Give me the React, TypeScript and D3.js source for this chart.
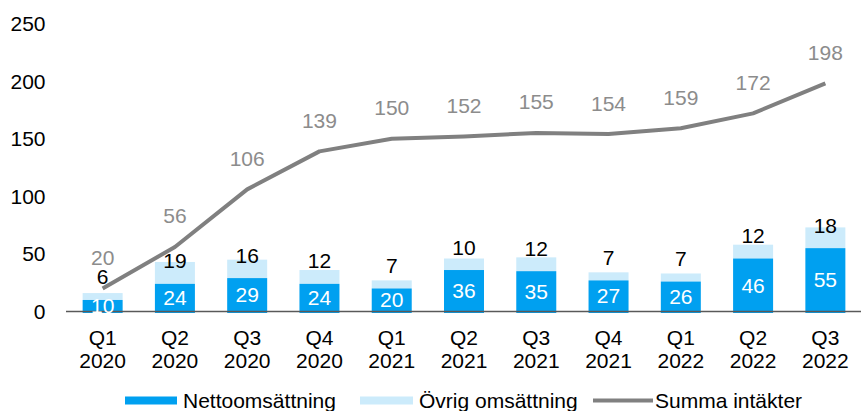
import React from "react";
import * as d3 from "d3";

const categories = ["Q1|2020", "Q2|2020", "Q3|2020", "Q4|2020", "Q1|2021", "Q2|2021", "Q3|2021", "Q4|2021", "Q1|2022", "Q2|2022", "Q3|2022"];
const netto = [10, 24, 29, 24, 20, 36, 35, 27, 26, 46, 55];
const ovrig = [6, 19, 16, 12, 7, 10, 12, 7, 7, 12, 18];
const summa = [20, 56, 106, 139, 150, 152, 155, 154, 159, 172, 198];
const yTicks = [0, 50, 100, 150, 200, 250];

const W = 861;
const H = 411;
const FONT = "'Liberation Sans', Arial, sans-serif";
const BLUE = "#00A0F0";
const LIGHT = "#CCEBFB";
const GREY = "#808080";
const LABELGREY = "#8C8C8C";

export default function App() {
  const x = d3
    .scaleBand<string>()
    .domain(categories)
    .range([66.5, 861.5])
    .paddingInner(0.4465)
    .paddingOuter(0.4465 / 2);
  const y = d3.scaleLinear().domain([0, 250]).range([311.5, 23.5]);
  const bw = x.bandwidth();
  const cx = (c: string) => (x(c) as number) + bw / 2;

  const line = d3
    .line<number>()
    .x((_, i) => cx(categories[i]))
    .y((d) => y(d));

  return (
    <svg
      width={W}
      height={H}
      style={{ position: "absolute", left: 0, top: 0, background: "#fff" }}
      fontFamily={FONT}
    >
      {/* y axis labels */}
      {yTicks.map((t) => (
        <text key={t} x={45.5} y={y(t) + 7.5} textAnchor="end" fontSize={21} fill="#000">
          {t}
        </text>
      ))}

      {/* bars */}
      {categories.map((c, i) => (
        <g key={c}>
          <rect x={x(c)} y={y(netto[i] + ovrig[i])} width={bw} height={y(netto[i]) - y(netto[i] + ovrig[i])} fill={LIGHT} />
          <rect x={x(c)} y={y(netto[i])} width={bw} height={y(0) - y(netto[i]) + 1.5} fill={BLUE} />
        </g>
      ))}

      {/* zero axis */}
      <line x1={66} x2={861} y1={y(0)} y2={y(0)} stroke="#595959" strokeWidth={1.5} />

      {/* netto labels */}
      {categories.map((c, i) => (
        <text key={c} x={cx(c)} y={(y(0) + y(netto[i])) / 2 + 7.5} textAnchor="middle" fontSize={21} fill="#fff">
          {netto[i]}
        </text>
      ))}

      {/* ovrig labels */}
      {categories.map((c, i) => (
        <text key={c} x={cx(c)} y={y(netto[i]) - 15.5} textAnchor="middle" fontSize={21} fill="#000">
          {ovrig[i]}
        </text>
      ))}

      {/* summa line */}
      <path d={line(summa) || ""} fill="none" stroke={GREY} strokeWidth={4} strokeLinejoin="round" />
      {categories.map((c, i) => (
        <text key={c} x={cx(c)} y={y(summa[i]) - 23.5} textAnchor="middle" fontSize={21} fill={LABELGREY}>
          {summa[i]}
        </text>
      ))}

      {/* x labels */}
      {categories.map((c) => {
        const [q, yr] = c.split("|");
        return (
          <g key={c}>
            <text x={cx(c)} y={344.5} textAnchor="middle" fontSize={21} fill="#000">
              {q}
            </text>
            <text x={cx(c)} y={368} textAnchor="middle" fontSize={21} fill="#000">
              {yr}
            </text>
          </g>
        );
      })}

      {/* legend */}
      <rect x={125} y={396.5} width={52} height={8} fill={BLUE} />
      <text x={183} y={408} fontSize={21} fill="#000">Nettoomsättning</text>
      <rect x={360} y={396.5} width={53} height={8} fill={LIGHT} />
      <text x={419} y={408} fontSize={21} fill="#000">Övrig omsättning</text>
      <line x1={593} x2={653} y1={400.5} y2={400.5} stroke={GREY} strokeWidth={4} />
      <text x={655} y={408} fontSize={21} fill="#000">Summa intäkter</text>
    </svg>
  );
}
